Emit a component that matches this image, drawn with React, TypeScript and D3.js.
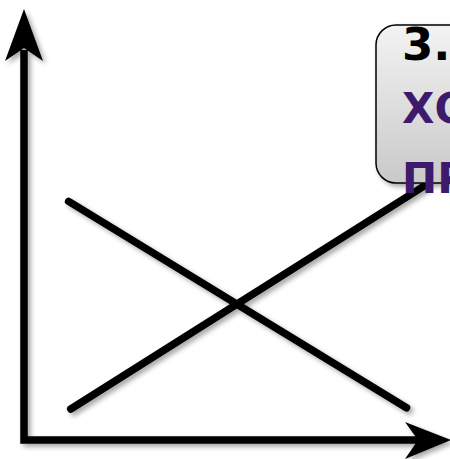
import React from 'react';
import * as d3 from 'd3';

// schematic values (axes run 0..10)
const lineFalling: [number, number][] = [[1.05, 5.55], [9.0, 0.75]];
const lineRising: [number, number][] = [[1.1, 0.72], [9.4, 5.9]];
const calloutLines = ['3. Точка', 'ХОРОШО', 'ПРОДАЖИ'];
const calloutColors = ['#000000', '#3d1a6b', '#3d1a6b'];

const W = 450;
const H = 459;
const baselines = [60, 123, 193];

const App = () => {
  const x = d3.scaleLinear().domain([0, 10]).range([24, 449]);
  const y = d3.scaleLinear().domain([0, 10]).range([440, 10]);
  const line = d3.line<[number, number]>().x(d => x(d[0])).y(d => y(d[1]));

  const ox = x(0);
  const oy = y(0);
  const top = y(10);
  const right = x(10);

  return (
    <svg width={W} height={H} style={{ position: 'absolute', left: 0, top: 0 }}>
      <defs>
        <filter id="shadow" x="-20%" y="-20%" width="140%" height="140%">
          <feDropShadow dx="3" dy="3" stdDeviation="2.5" floodColor="#000" floodOpacity="0.35" />
        </filter>
        <linearGradient id="boxFill" x1="0" y1="0" x2="0" y2="1">
          <stop offset="0%" stopColor="#f3f3f3" />
          <stop offset="100%" stopColor="#c9c9c9" />
        </linearGradient>
      </defs>

      <g filter="url(#shadow)">
        {/* axes */}
        <path
          d={`M${ox},${top + 40} L${ox},${oy} L${right - 30},${oy}`}
          fill="none"
          stroke="#000"
          strokeWidth={7.5}
          strokeLinejoin="miter"
        />
        <path
          d={`M${ox},${top - 1} L${ox + 19},${top + 51} L${ox},${top + 38} L${ox - 19},${top + 51} Z`}
          fill="#000"
        />
        <path
          d={`M${right + 2},${oy} L${right - 44},${oy - 18} L${right - 31},${oy} L${right - 44},${oy + 19} Z`}
          fill="#000"
        />

        {/* crossing lines */}
        <path d={line(lineFalling) || ''} fill="none" stroke="#000" strokeWidth={7.5} strokeLinecap="round" />
        <path d={line(lineRising) || ''} fill="none" stroke="#000" strokeWidth={7.5} strokeLinecap="round" />
      </g>

      {/* callout */}
      <rect
        x={376}
        y={25}
        width={120}
        height={158}
        rx={20}
        ry={20}
        fill="url(#boxFill)"
        stroke="#000"
        strokeWidth={1.5}
        filter="url(#shadow)"
      />
      {calloutLines.map((t, i) => (
        <text
          key={i}
          x={402}
          y={baselines[i]}
          fontFamily="'DejaVu Sans', Verdana, sans-serif"
          fontWeight="bold"
          fontSize={i === 0 ? 45 : 42}
          fill={calloutColors[i]}
        >
          {t}
        </text>
      ))}
    </svg>
  );
};

export default App;
